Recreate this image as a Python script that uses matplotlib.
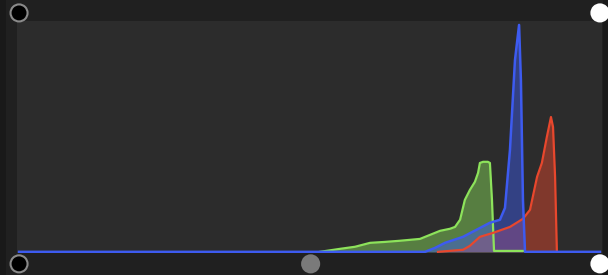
# Levels-style RGB histogram widget
import matplotlib.pyplot as plt
from matplotlib.patches import Rectangle

# ------------------------------------------------------------
# data: intensity (0-255) vs. normalised count
# ------------------------------------------------------------
green_x = [0, 132.1, 140.9, 147.5, 154.1, 160.6, 167.2, 176.0, 184.8, 189.2, 191.4,
           193.6, 195.7, 197.9, 200.1, 201.5, 202.3, 203.7, 205.8, 206.7, 207.6,
           208.5, 209.0, 221.2]
green_y = [0, 0, 0.013, 0.022, 0.039, 0.043, 0.048, 0.056, 0.091, 0.100, 0.108,
           0.139, 0.225, 0.268, 0.303, 0.342, 0.385, 0.390, 0.390, 0.385, 0.225,
           0.004, 0.004, 0.004]

blue_x = [0, 178.2, 182.6, 187.0, 194.9, 206.7, 211.1, 213.3, 215.5, 217.7,
          219.5, 220.3, 221.2, 222.1, 255]
blue_y = [0, 0, 0.017, 0.039, 0.065, 0.126, 0.139, 0.190, 0.442, 0.831,
          0.983, 0.745, 0.225, 0, 0]

red_x = [183.9, 194.9, 197.9, 202.3, 208.0, 215.5, 221.2, 224.3, 227.4, 229.5,
         231.7, 233.5, 234.4, 235.3, 236.1]
red_y = [0, 0.009, 0.026, 0.065, 0.082, 0.108, 0.143, 0.182, 0.325, 0.385,
         0.498, 0.584, 0.541, 0.325, 0]

# level handles
top_handles = [0, 255]
top_colors = ["black", "white"]
bottom_handles = [0, 128, 255]
bottom_colors = ["black", "#7a7a7a", "white"]

# ------------------------------------------------------------
# figure
# ------------------------------------------------------------
fig = plt.figure(figsize=(6.08, 2.75), dpi=100, facecolor="#202020")
fig.patches.append(Rectangle((0, 0), 6 / 608, 1, transform=fig.transFigure,
                             facecolor="#191919", edgecolor="none", zorder=-5))
fig.patches.append(Rectangle((603 / 608, 0), 5 / 608, 1, transform=fig.transFigure,
                             facecolor="#1a1a1a", edgecolor="none", zorder=-5))

ax = fig.add_axes([17 / 608, 22 / 275, 585 / 608, 232 / 275])
ax.set_facecolor("#2c2c2c")
ax.set_xlim(-0.9, 255.9)
ax.set_ylim(-0.005, 1.0)
for s in ax.spines.values():
    s.set_visible(False)
ax.set_xticks([])
ax.set_yticks([])

ax.fill_between(green_x, green_y, color="#8de35b", alpha=0.45, lw=0)
ax.fill_between(red_x, red_y, color="#e8472d", alpha=0.45, lw=0)
ax.fill_between(blue_x, blue_y, color="#3d5bf0", alpha=0.45, lw=0)

ax.plot(green_x[1:], green_y[1:], color="#8de35b", lw=1.6)
ax.plot(red_x, red_y, color="#e8472d", lw=1.6)
ax.plot(blue_x, blue_y, color="#3d5bf0", lw=1.8)

# handles
ax.scatter(top_handles, [1.035] * len(top_handles), s=150, c=top_colors,
           edgecolors=["#8a8a8a", "white"], linewidths=1.5, clip_on=False, zorder=5)
ax.scatter(bottom_handles, [-0.052] * len(bottom_handles), s=150, c=bottom_colors,
           edgecolors=["#8a8a8a", "#7a7a7a", "white"], linewidths=1.5,
           clip_on=False, zorder=5)

fig.savefig("out.png", dpi=100, facecolor=fig.get_facecolor())
